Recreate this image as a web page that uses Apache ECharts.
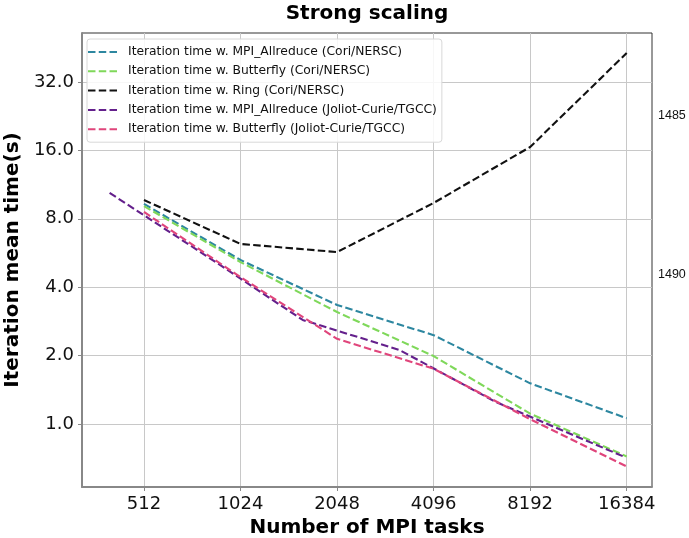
<!DOCTYPE html>
<html><head><meta charset="utf-8">
<script src="https://cdn.jsdelivr.net/npm/echarts@6/dist/echarts.min.js"></script>
<style>html,body{margin:0;padding:0;background:#fff}#c{width:689px;height:538px}</style>
</head><body><div id="c"></div>
<script>
// ---- data ----
const xTicks = [512, 1024, 2048, 4096, 8192, 16384];
const yTicks = [1, 2, 4, 8, 16, 32];
const seriesNames = [
  'Iteration time w. MPI_Allreduce (Cori/NERSC)',
  'Iteration time w. Butterfly (Cori/NERSC)',
  'Iteration time w. Ring (Cori/NERSC)',
  'Iteration time w. MPI_Allreduce (Joliot-Curie/TGCC)',
  'Iteration time w. Butterfly (Joliot-Curie/TGCC)'
];
const tasksCori = [512, 1024, 2048, 4096, 8192, 16384];
const allreduceCori = [9.3, 5.27, 3.34, 2.46, 1.51, 1.06];
const butterflyCori = [9.1, 5.16, 3.11, 1.99, 1.11, 0.72];
const ringCori = [9.68, 6.2, 5.71, 9.39, 16.56, 42.9];
const tasksJoliotAllreduce = [400, 800, 1600, 3200, 6400, 16000];
const allreduceJoliot = [10.4, 5.5, 2.87, 2.12, 1.25, 0.72];
const tasksJoliotButterfly = [512, 1024, 2048, 4096, 8192, 16384];
const butterflyJoliot = [8.57, 4.43, 2.37, 1.75, 1.05, 0.65];
const sideLabels = ['1485', '1490'];

// ---- build ----
const colors = ['#2d87a0', '#7fd85a', '#111111', '#64208c', '#e0457b'];
const xs = [tasksCori, tasksCori, tasksCori, tasksJoliotAllreduce, tasksJoliotButterfly];
const ys = [allreduceCori, butterflyCori, ringCori, allreduceJoliot, butterflyJoliot];
const font = '"DejaVu Sans", sans-serif';
const dashIcon = 'path://M0,0H7.5V2H0Z M10.8,0H18.3V2H10.8Z M21.6,0H29.1V2H21.6Z';

const series = seriesNames.map((name, i) => ({
  name, type: 'line', symbol: 'none', silent: true,
  data: xs[i].map((x, j) => [Math.log2(x), Math.log2(ys[i][j])]),
  lineStyle: { color: colors[i], width: 2.1, type: [7.5, 3.3], cap: 'butt' },
  itemStyle: { color: colors[i] }
}));

const chart = echarts.init(document.getElementById('c'), null, { renderer: 'canvas' });
chart.setOption({
  animation: false,
  backgroundColor: '#fff',
  grid: { left: 82, right: 37, top: 33, bottom: 51, outerBoundsMode: 'none', containLabel: false, show: true, borderColor: '#333', borderWidth: 1, backgroundColor: 'transparent' },
  xAxis: {
    type: 'value', min: 8.358, max: 14.262,
    name: 'Number of MPI tasks', nameLocation: 'middle', nameGap: 27,
    nameTextStyle: { fontFamily: font, fontSize: 20, fontWeight: 'bold', color: '#000' },
    axisLine: { show: true, onZero: false, lineStyle: { color: '#888', width: 2 } },
    axisTick: { show: true, length: 4, customValues: xTicks.map(Math.log2), lineStyle: { color: '#888' } },
    axisLabel: { customValues: xTicks.map(Math.log2), formatter: v => String(Math.round(Math.pow(2, v))), fontFamily: font, fontSize: 18, color: '#111', margin: 8 },
    splitLine: { show: true, lineStyle: { color: '#c8c8c8', width: 1 } }
  },
  yAxis: {
    type: 'value', min: -0.921, max: 5.716,
    name: 'Iteration mean time(s)', nameLocation: 'middle', nameGap: 55,
    nameTextStyle: { fontFamily: font, fontSize: 20, fontWeight: 'bold', color: '#000' },
    axisLine: { show: true, onZero: false, lineStyle: { color: '#888', width: 2 } },
    axisTick: { show: true, length: 4, customValues: yTicks.map(Math.log2), lineStyle: { color: '#888' } },
    axisLabel: { customValues: yTicks.map(Math.log2), formatter: v => Math.pow(2, v).toFixed(1), fontFamily: font, fontSize: 18, color: '#111', margin: 8 },
    splitLine: { show: true, lineStyle: { color: '#c8c8c8', width: 1 } }
  },
  legend: {
    orient: 'vertical', left: 87, top: 39, padding: [7, 5, 7, 1],
    icon: dashIcon, itemWidth: 29, itemHeight: 2, itemGap: 7.3,
    backgroundColor: 'rgba(255,255,255,0.85)', borderColor: '#d8d8d8', borderWidth: 1, borderRadius: 3,
    textStyle: { fontFamily: font, fontSize: 12.3, color: '#111', padding: [0, 0, 0, 6] },
    data: seriesNames
  },
  graphic: [
    { type: 'text', style: { text: 'Strong scaling', x: 367, y: 14, textAlign: 'center', textVerticalAlign: 'middle', font: 'bold 20px "DejaVu Sans", sans-serif', fill: '#000' } },
    { type: 'text', style: { text: sideLabels[0], x: 658, y: 116, textVerticalAlign: 'middle', font: '12.5px "Liberation Sans", Arial, sans-serif', fill: '#111' } },
    { type: 'text', style: { text: sideLabels[1], x: 658, y: 275, textVerticalAlign: 'middle', font: '12.5px "Liberation Sans", Arial, sans-serif', fill: '#111' } }
  ],
  series
});
</script>
</body></html>
